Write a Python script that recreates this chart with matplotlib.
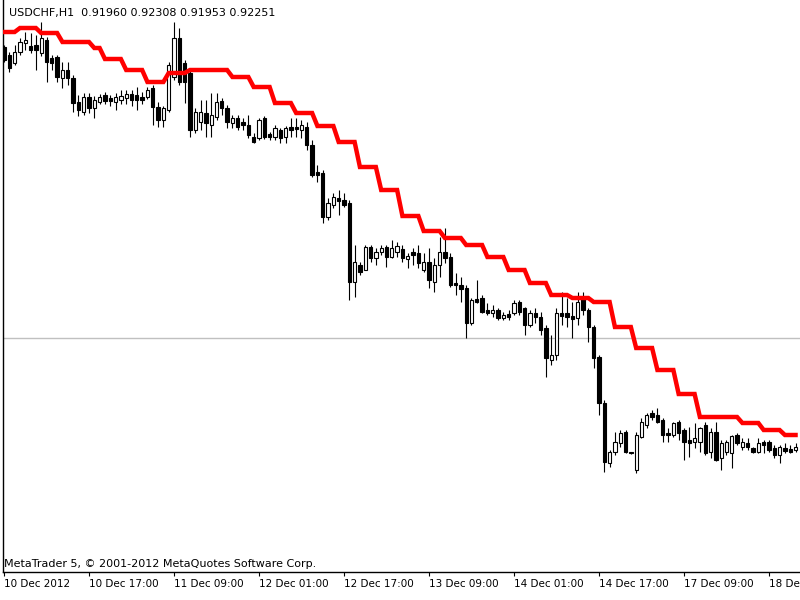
import matplotlib
matplotlib.use("Agg")
import matplotlib.pyplot as plt
import numpy as np

# USDCHF H1, 10 Dec 2012 01:00 .. 18 Dec 2012, one entry per hourly bar
symbol = "USDCHF,H1"
last_ohlc = ["0.91960", "0.92308", "0.91953", "0.92251"]

opens = [
    0.9603, 0.9595, 0.9587, 0.9598, 0.9607, 0.9604, 0.9605, 0.9597, 0.9610, 0.9592,
    0.9593, 0.9572, 0.9580, 0.9572, 0.9548, 0.9538, 0.9553, 0.9542, 0.9548, 0.9555,
    0.9552, 0.9548, 0.9550, 0.9552, 0.9556, 0.9555, 0.9553, 0.9553, 0.9562, 0.9543,
    0.9530, 0.9540, 0.9573, 0.9612, 0.9587, 0.9577, 0.9520, 0.9528, 0.9537, 0.9525,
    0.9533, 0.9549, 0.9542, 0.9527, 0.9532, 0.9528, 0.9525, 0.9513, 0.9512, 0.9532,
    0.9516, 0.9513, 0.9520, 0.9513, 0.9523, 0.9523, 0.9520, 0.9523, 0.9505, 0.9478,
    0.9477, 0.9433, 0.9445, 0.9452, 0.9450, 0.9447, 0.9368, 0.9385, 0.9380, 0.9403,
    0.9392, 0.9398, 0.9403, 0.9393, 0.9398, 0.9401, 0.9391, 0.9398, 0.9397, 0.9380,
    0.9388, 0.9368, 0.9385, 0.9398, 0.9393, 0.9367, 0.9365, 0.9362, 0.9327, 0.9351,
    0.9352, 0.9340, 0.9337, 0.9340, 0.9332, 0.9336, 0.9337, 0.9348, 0.9342, 0.9325,
    0.9337, 0.9333, 0.9322, 0.9290, 0.9295, 0.9337, 0.9337, 0.9334, 0.9332, 0.9353,
    0.9340, 0.9323, 0.9293, 0.9247, 0.9187, 0.9198, 0.9207, 0.9218, 0.9198, 0.9180,
    0.9213, 0.9225, 0.9237, 0.9235, 0.9230, 0.9217, 0.9215, 0.9228, 0.9220, 0.9210,
    0.9208, 0.9208, 0.9225, 0.9198, 0.9218, 0.9192, 0.9198, 0.9197, 0.9215, 0.9203,
    0.9207, 0.9202, 0.9198, 0.9208, 0.9208, 0.9202, 0.9195, 0.9202, 0.9201, 0.9200,
]

highs = [
    0.9605, 0.9598, 0.9605, 0.9612, 0.9618, 0.9617, 0.9615, 0.9628, 0.9613, 0.9595,
    0.9595, 0.9588, 0.9588, 0.9575, 0.9555, 0.9557, 0.9557, 0.9554, 0.9556, 0.9558,
    0.9555, 0.9557, 0.9560, 0.9560, 0.9560, 0.9563, 0.9558, 0.9563, 0.9565, 0.9548,
    0.9544, 0.9588, 0.9628, 0.9622, 0.9590, 0.9580, 0.9542, 0.9550, 0.9550, 0.9557,
    0.9557, 0.9552, 0.9545, 0.9535, 0.9535, 0.9532, 0.9535, 0.9517, 0.9532, 0.9534,
    0.9518, 0.9525, 0.9522, 0.9524, 0.9532, 0.9532, 0.9530, 0.9528, 0.9510, 0.9485,
    0.9480, 0.9452, 0.9457, 0.9460, 0.9457, 0.9450, 0.9405, 0.9388, 0.9405, 0.9405,
    0.9402, 0.9405, 0.9405, 0.9410, 0.9408, 0.9405, 0.9397, 0.9402, 0.9405, 0.9397,
    0.9402, 0.9392, 0.9413, 0.9422, 0.9397, 0.9377, 0.9373, 0.9365, 0.9352, 0.9370,
    0.9355, 0.9347, 0.9345, 0.9342, 0.9338, 0.9340, 0.9350, 0.9350, 0.9343, 0.9340,
    0.9342, 0.9338, 0.9325, 0.9315, 0.9342, 0.9358, 0.9352, 0.9348, 0.9358, 0.9358,
    0.9342, 0.9325, 0.9295, 0.9250, 0.9200, 0.9218, 0.9220, 0.9220, 0.9198, 0.9218,
    0.9232, 0.9237, 0.9240, 0.9242, 0.9232, 0.9222, 0.9228, 0.9230, 0.9222, 0.9223,
    0.9227, 0.9223, 0.9228, 0.9222, 0.9228, 0.9210, 0.9210, 0.9215, 0.9217, 0.9212,
    0.9212, 0.9203, 0.9212, 0.9210, 0.9210, 0.9205, 0.9205, 0.9207, 0.9205, 0.9207,
]

lows = [
    0.9588, 0.9578, 0.9585, 0.9595, 0.9600, 0.9597, 0.9580, 0.9594, 0.9568, 0.9580,
    0.9568, 0.9562, 0.9565, 0.9538, 0.9534, 0.9535, 0.9537, 0.9532, 0.9546, 0.9546,
    0.9544, 0.9540, 0.9546, 0.9546, 0.9544, 0.9540, 0.9546, 0.9551, 0.9525, 0.9523,
    0.9523, 0.9538, 0.9570, 0.9565, 0.9547, 0.9513, 0.9517, 0.9520, 0.9513, 0.9513,
    0.9530, 0.9535, 0.9522, 0.9522, 0.9520, 0.9520, 0.9512, 0.9507, 0.9510, 0.9511,
    0.9510, 0.9510, 0.9507, 0.9507, 0.9513, 0.9513, 0.9512, 0.9500, 0.9473, 0.9468,
    0.9427, 0.9430, 0.9442, 0.9435, 0.9443, 0.9350, 0.9353, 0.9375, 0.9380, 0.9388,
    0.9385, 0.9395, 0.9383, 0.9392, 0.9393, 0.9388, 0.9382, 0.9385, 0.9382, 0.9378,
    0.9362, 0.9358, 0.9373, 0.9387, 0.9363, 0.9355, 0.9348, 0.9312, 0.9325, 0.9347,
    0.9337, 0.9335, 0.9333, 0.9330, 0.9330, 0.9330, 0.9335, 0.9335, 0.9315, 0.9323,
    0.9327, 0.9315, 0.9273, 0.9285, 0.9290, 0.9325, 0.9323, 0.9312, 0.9325, 0.9335,
    0.9308, 0.9282, 0.9235, 0.9178, 0.9183, 0.9195, 0.9203, 0.9197, 0.9196, 0.9177,
    0.9212, 0.9222, 0.9230, 0.9227, 0.9208, 0.9208, 0.9213, 0.9210, 0.9190, 0.9193,
    0.9202, 0.9198, 0.9195, 0.9192, 0.9189, 0.9180, 0.9195, 0.9182, 0.9205, 0.9200,
    0.9200, 0.9197, 0.9197, 0.9197, 0.9198, 0.9192, 0.9187, 0.9197, 0.9197, 0.9198,
]

closes = [
    0.9590, 0.9582, 0.9598, 0.9608, 0.9610, 0.9600, 0.9600, 0.9612, 0.9588, 0.9587,
    0.9573, 0.9580, 0.9572, 0.9547, 0.9540, 0.9553, 0.9542, 0.9550, 0.9553, 0.9549,
    0.9549, 0.9553, 0.9554, 0.9556, 0.9550, 0.9550, 0.9550, 0.9560, 0.9543, 0.9530,
    0.9542, 0.9585, 0.9612, 0.9568, 0.9568, 0.9520, 0.9538, 0.9538, 0.9527, 0.9535,
    0.9548, 0.9542, 0.9528, 0.9532, 0.9523, 0.9525, 0.9515, 0.9508, 0.9530, 0.9513,
    0.9513, 0.9522, 0.9512, 0.9522, 0.9520, 0.9521, 0.9525, 0.9505, 0.9475, 0.9475,
    0.9433, 0.9447, 0.9453, 0.9449, 0.9445, 0.9368, 0.9388, 0.9378, 0.9403, 0.9392,
    0.9398, 0.9402, 0.9393, 0.9402, 0.9404, 0.9392, 0.9394, 0.9395, 0.9387, 0.9388,
    0.9370, 0.9385, 0.9398, 0.9392, 0.9365, 0.9365, 0.9361, 0.9327, 0.9350, 0.9348,
    0.9338, 0.9337, 0.9340, 0.9332, 0.9335, 0.9333, 0.9347, 0.9338, 0.9325, 0.9337,
    0.9333, 0.9320, 0.9292, 0.9295, 0.9337, 0.9334, 0.9333, 0.9331, 0.9348, 0.9340,
    0.9323, 0.9292, 0.9247, 0.9188, 0.9198, 0.9208, 0.9217, 0.9198, 0.9197, 0.9215,
    0.9228, 0.9235, 0.9233, 0.9228, 0.9215, 0.9215, 0.9227, 0.9217, 0.9208, 0.9207,
    0.9212, 0.9222, 0.9197, 0.9218, 0.9190, 0.9207, 0.9208, 0.9214, 0.9207, 0.9208,
    0.9203, 0.9198, 0.9207, 0.9205, 0.9200, 0.9195, 0.9203, 0.9199, 0.9198, 0.9203,
]

# red stepped indicator line
indicator = [
    0.9618, 0.9618, 0.9618, 0.9622, 0.9622, 0.9622, 0.9622, 0.9617, 0.9617, 0.9617,
    0.9617, 0.9608, 0.9608, 0.9608, 0.9608, 0.9608, 0.9608, 0.9602, 0.9602, 0.9591,
    0.9591, 0.9591, 0.9591, 0.9580, 0.9580, 0.9580, 0.9580, 0.9568, 0.9568, 0.9568,
    0.9568, 0.9577, 0.9577, 0.9577, 0.9577, 0.9580, 0.9580, 0.9580, 0.9580, 0.9580,
    0.9580, 0.9580, 0.9580, 0.9573, 0.9573, 0.9573, 0.9573, 0.9563, 0.9563, 0.9563,
    0.9563, 0.9547, 0.9547, 0.9547, 0.9547, 0.9537, 0.9537, 0.9537, 0.9537, 0.9524,
    0.9524, 0.9524, 0.9524, 0.9508, 0.9508, 0.9508, 0.9508, 0.9483, 0.9483, 0.9483,
    0.9483, 0.9460, 0.9460, 0.9460, 0.9460, 0.9434, 0.9434, 0.9434, 0.9434, 0.9419,
    0.9419, 0.9419, 0.9419, 0.9412, 0.9412, 0.9412, 0.9412, 0.9405, 0.9405, 0.9405,
    0.9405, 0.9393, 0.9393, 0.9393, 0.9393, 0.9380, 0.9380, 0.9380, 0.9380, 0.9367,
    0.9367, 0.9367, 0.9367, 0.9355, 0.9355, 0.9355, 0.9355, 0.9352, 0.9352, 0.9352,
    0.9352, 0.9348, 0.9348, 0.9348, 0.9348, 0.9323, 0.9323, 0.9323, 0.9323, 0.9302,
    0.9302, 0.9302, 0.9302, 0.9280, 0.9280, 0.9280, 0.9280, 0.9256, 0.9256, 0.9256,
    0.9256, 0.9233, 0.9233, 0.9233, 0.9233, 0.9233, 0.9233, 0.9233, 0.9233, 0.9227,
    0.9227, 0.9227, 0.9227, 0.9220, 0.9220, 0.9220, 0.9220, 0.9215, 0.9215, 0.9215,
]

level_price = 0.9312

tick_bars = [0, 16, 32, 48, 64, 80, 96, 112, 128, 144]
tick_labels = ["10 Dec 2012", "10 Dec 17:00", "11 Dec 09:00", "12 Dec 01:00",
               "12 Dec 17:00", "13 Dec 09:00", "14 Dec 01:00", "14 Dec 17:00",
               "17 Dec 09:00", "18 Dec 01:00"]


def draw_candles(ax, o, h, l, c):
    o, h, l, c = map(np.asarray, (o, h, l, c))
    x = np.arange(len(o))
    up = c >= o
    bottom = np.minimum(o, c)
    height = np.abs(c - o)
    ax.vlines(x, l, h, color="black", linewidth=0.8, zorder=2)
    ax.bar(x[up], height[up], bottom=bottom[up], width=0.62, color="white",
           edgecolor="black", linewidth=0.8, zorder=3)
    ax.bar(x[~up], height[~up], bottom=bottom[~up], width=0.62, color="black",
           edgecolor="black", linewidth=0.8, zorder=3)


fig = plt.figure(figsize=(8, 6), dpi=100)
ax = fig.add_axes([3 / 800, 28 / 600, 797 / 800, 572 / 600])

ax.axhline(level_price, color="#c0c0c0", linewidth=1.0, zorder=1)
draw_candles(ax, opens, highs, lows, closes)
ax.plot(np.arange(len(indicator)), indicator, color="#ff0000", linewidth=3.2,
        solid_joinstyle="miter", zorder=4)

ax.set_xlim(-0.19, 149.84)
ax.set_ylim(0.9078, 0.9650)

ax.spines["top"].set_visible(False)
ax.spines["right"].set_visible(False)
ax.spines["left"].set_linewidth(1.0)
ax.spines["bottom"].set_linewidth(1.0)

ax.set_yticks([])
ax.set_xticks(tick_bars)
ax.set_xticklabels(tick_labels)
ax.tick_params(axis="x", direction="out", length=3, width=0.8, pad=2, labelsize=7.5)
for lab in ax.get_xticklabels():
    lab.set_horizontalalignment("left")

fig.text(9 / 800, 1 - 13 / 600, symbol + "  " + " ".join(last_ohlc),
         fontsize=8, ha="left", va="center")
fig.text(4 / 800, 1 - 564 / 600, "MetaTrader 5, \u00a9 2001-2012 MetaQuotes Software Corp.",
         fontsize=8, ha="left", va="center")

fig.savefig("out.png", dpi=100)
